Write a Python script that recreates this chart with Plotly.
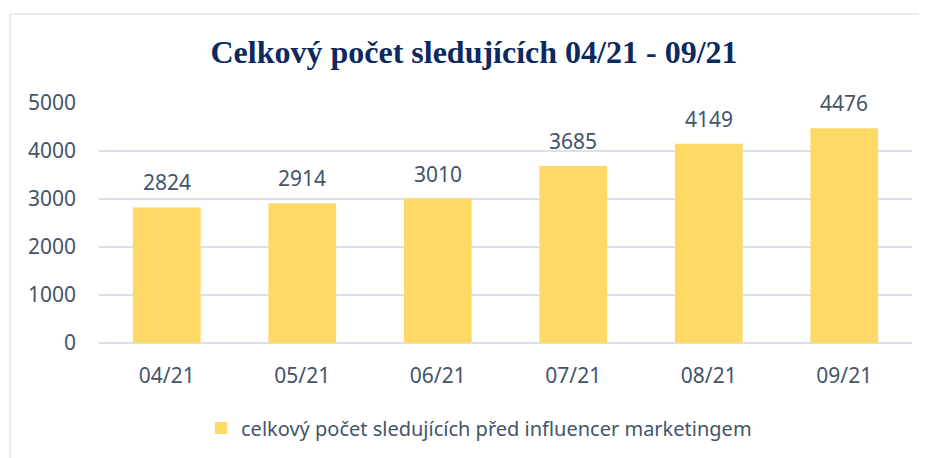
import plotly.graph_objects as go

months = ["04/21", "05/21", "06/21", "07/21", "08/21", "09/21"]
followers = [2824, 2914, 3010, 3685, 4149, 4476]
series_name = "celkový počet sledujících před influencer marketingem"
title_text = "Celkový počet sledujících 04/21 - 09/21"
y_ticks = [0, 1000, 2000, 3000, 4000, 5000]

# page has an 8px body margin: figure coordinates = page coordinates - 8
OFF = 8
W, H = 927 - OFF, 458 - OFF
L, R, T, B = 99 - OFF, 927 - 912, 103 - OFF, 458 - 343
pw, ph = W - L - R, H - T - B

def px_x(x):  # page pixel -> paper
    return (x - OFF - L) / pw

def px_y(y):
    return (H - B - (y - OFF)) / ph

text_color = "#44546A"
font_family = "'Noto Sans', 'Open Sans', sans-serif"

fig = go.Figure()
fig.add_trace(go.Bar(
    x=months, y=followers, name=series_name,
    marker=dict(color="#FFD966", line=dict(width=0)),
    cliponaxis=False,
))

annotations = [dict(x=m, y=v, xref="x", yref="y", text=str(v), showarrow=False,
                    yanchor="middle", yshift=25,
                    font=dict(size=21, color=text_color, family=font_family))
               for m, v in zip(months, followers)]

border = dict(color="#E3E6EA", width=1.5)

fig.update_layout(
    width=W, height=H,
    margin=dict(l=L, r=R, t=T, b=B, autoexpand=False),
    paper_bgcolor="white", plot_bgcolor="white",
    bargap=0.5,
    showlegend=True,
    annotations=annotations,
    title=dict(text="<b>" + title_text + "</b>", x=(474 - OFF) / W, xref="container",
               xanchor="center", y=1 - (52 - OFF) / H, yref="container", yanchor="middle",
               font=dict(family="'Liberation Serif', 'Times New Roman', serif", size=32, color="#0D2A5E")),
    legend=dict(orientation="h", x=px_x(479), xanchor="center", y=px_y(428), yanchor="middle",
                font=dict(size=20, color=text_color, family=font_family),
                itemwidth=30),
    xaxis=dict(showgrid=False, showline=False, ticks="", ticklabelstandoff=18,
               tickfont=dict(size=21, color=text_color, family=font_family)),
    yaxis=dict(range=[0, 5000], tickvals=y_ticks, showgrid=True, gridcolor="#DCE1E8",
               gridwidth=1.5, zeroline=True, zerolinecolor="#DCE1E8", zerolinewidth=1.5,
               showline=False, ticks="", ticklabelstandoff=22,
               tickfont=dict(size=21, color=text_color, family=font_family)),
    font=dict(family=font_family, color=text_color),
    shapes=[
        dict(type="line", xref="paper", yref="paper", x0=px_x(10), x1=px_x(960),
             y0=px_y(14), y1=px_y(14), line=border, layer="below"),
        dict(type="line", xref="paper", yref="paper", x0=px_x(10), x1=px_x(10),
             y0=px_y(14), y1=px_y(480), line=border, layer="below"),
    ],
)

fig.write_html("out.html")
